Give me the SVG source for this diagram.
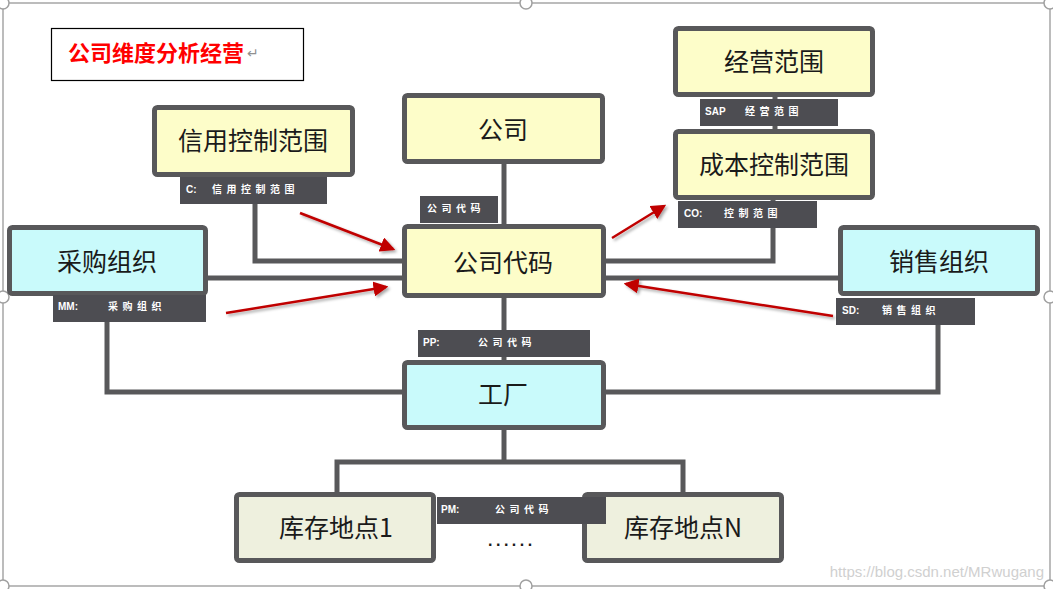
<svg xmlns="http://www.w3.org/2000/svg" width="1053" height="589" viewBox="0 0 1053 589">
<defs>
<style>
.frame{fill:none;stroke:#a6a6a6;stroke-width:1.5}
.handle{fill:#fff;stroke:#a0a0a0;stroke-width:1.5}
.box{stroke:#58585a;stroke-width:5}
.y{fill:#fdfdc9}
.c{fill:#c9fafb}
.g{fill:#eef0de}
.lbl{fill:#4d4d52}
.main{font-family:"Noto Sans CJK SC","Liberation Sans",sans-serif;font-size:25px;fill:#1a1a1a;text-anchor:middle}
.lt{font-family:"Liberation Sans","Noto Sans CJK SC",sans-serif;font-size:10px;font-weight:bold;fill:#fff}
.lc{font-family:"Noto Sans CJK SC",sans-serif;font-size:10px;font-weight:bold;fill:#fff;letter-spacing:4.5px}
.conn{fill:none;stroke:#58585a;stroke-width:5}
.red{fill:none;stroke:#c00000;stroke-width:2.5;marker-end:url(#ah);filter:url(#sh)}
</style>
<marker id="ah" markerWidth="6" markerHeight="6" refX="5" refY="3" orient="auto" markerUnits="strokeWidth">
<path d="M0,0 L6,3 L0,6 Z" fill="#c00000"/>
</marker>
<filter id="sh" x="-20%" y="-20%" width="140%" height="140%">
<feDropShadow dx="2" dy="2" stdDeviation="1.5" flood-color="#000" flood-opacity="0.35"/>
</filter>
</defs>
<rect width="1053" height="589" fill="#fff"/>
<g id="frame">
<rect class="frame" x="3" y="3" width="1047" height="583"/>
<circle class="handle" cx="3" cy="3" r="6"/>
<circle class="handle" cx="526" cy="3" r="6"/>
<circle class="handle" cx="1050" cy="3" r="6"/>
<circle class="handle" cx="3" cy="297" r="6"/>
<circle class="handle" cx="1050" cy="297" r="6"/>
<circle class="handle" cx="3" cy="586" r="6"/>
<circle class="handle" cx="526" cy="586" r="6"/>
<circle class="handle" cx="1050" cy="586" r="6"/>
</g>
<g id="title">
<rect x="51.5" y="28.5" width="252" height="52" fill="#fff" stroke="#000" stroke-width="1.2"/>
<text x="68" y="61" font-family="Noto Sans CJK SC,sans-serif" font-size="22" font-weight="bold" fill="#ff0000">公司维度分析经营</text>
<text x="247" y="58" font-family="DejaVu Sans,sans-serif" font-size="14" fill="#909090">↵</text>
</g>
<g id="connectors">
<path class="conn" d="M255 177 V261 H402"/>
<path class="conn" d="M207 278 H402"/>
<path class="conn" d="M107 321 V392 H402"/>
<path class="conn" d="M504 162 V224"/>
<path class="conn" d="M504 297 V360"/>
<path class="conn" d="M775 96 V129"/>
<path class="conn" d="M773 198 V261 H606"/>
<path class="conn" d="M606 278 H838"/>
<path class="conn" d="M938 325 V392 H606"/>
<path class="conn" d="M504 428 V462"/>
<path class="conn" d="M337 492 V462 H683 V492"/>
</g>
<g id="n-xinyong">
<rect class="box y" x="154.5" y="107.5" width="198" height="67" rx="3"/>
<text class="main" x="253" y="150">信用控制范围</text>
</g>
<g id="n-gongsi">
<rect class="box y" x="404.5" y="95.5" width="198" height="66" rx="3"/>
<text class="main" x="503" y="139">公司</text>
</g>
<g id="n-jingying">
<rect class="box y" x="675.5" y="28.5" width="197" height="66" rx="3"/>
<text class="main" x="774" y="71">经营范围</text>
</g>
<g id="n-chengben">
<rect class="box y" x="675.5" y="131.5" width="197" height="66" rx="3"/>
<text class="main" x="774" y="174">成本控制范围</text>
</g>
<g id="n-caigou">
<rect class="box c" x="9.5" y="227.5" width="196" height="66" rx="3"/>
<text class="main" x="107" y="271">采购组织</text>
</g>
<g id="n-gongsidaima">
<rect class="box y" x="404.5" y="226.5" width="199" height="69" rx="3"/>
<text class="main" x="503" y="272">公司代码</text>
</g>
<g id="n-xiaoshou">
<rect class="box c" x="840.5" y="227.5" width="197" height="66" rx="3"/>
<text class="main" x="939" y="271">销售组织</text>
</g>
<g id="n-gongchang">
<rect class="box c" x="404.5" y="362.5" width="199" height="65" rx="3"/>
<text class="main" x="503" y="404">工厂</text>
</g>
<g id="n-kucun1">
<rect class="box g" x="236.5" y="494.5" width="197" height="66" rx="3"/>
<text class="main" x="336" y="537">库存地点1</text>
</g>
<g id="n-kucunN">
<rect class="box g" x="584.5" y="494.5" width="197" height="66" rx="3"/>
<text class="main" x="683" y="537">库存地点N</text>
</g>
<g id="l-c">
<rect class="lbl" x="180" y="177" width="147" height="27"/>
<text class="lt" x="186" y="193">C:</text>
<text class="lc" x="212" y="193">信用控制范围</text>
</g>
<g id="l-gs">
<rect class="lbl" x="420" y="196" width="78" height="27"/>
<text class="lc" x="427" y="212">公司代码</text>
</g>
<g id="l-co">
<rect class="lbl" x="678" y="201" width="139" height="27"/>
<text class="lt" x="684" y="217">CO:</text>
<text class="lc" x="724" y="217">控制范围</text>
</g>
<g id="l-sap">
<rect class="lbl" x="700" y="99" width="138" height="27"/>
<text class="lt" x="705" y="115">SAP</text>
<text class="lc" x="745" y="115">经营范围</text>
</g>
<g id="l-mm">
<rect class="lbl" x="53" y="295" width="153" height="27"/>
<text class="lt" x="58" y="310">MM:</text>
<text class="lc" x="108" y="310">采购组织</text>
</g>
<g id="l-pp">
<rect class="lbl" x="418" y="330" width="172" height="27"/>
<text class="lt" x="423" y="346">PP:</text>
<text class="lc" x="478" y="346">公司代码</text>
</g>
<g id="l-sd">
<rect class="lbl" x="836" y="298" width="139" height="27"/>
<text class="lt" x="842" y="314">SD:</text>
<text class="lc" x="882" y="314">销售组织</text>
</g>
<g id="l-pm">
<rect class="lbl" x="437" y="497" width="169" height="27"/>
<text class="lt" x="441" y="513">PM:</text>
<text class="lc" x="495" y="513">公司代码</text>
</g>
<g id="arrows">
<path class="red" d="M300 213 L393 249"/>
<path class="red" d="M226 313 L386 287"/>
<path class="red" d="M459 193 V166"/>
<path class="red" d="M612 238 L664 206"/>
<path class="red" d="M542 330 V301"/>
<path class="red" d="M852 128 V100"/>
<path class="red" d="M833 316 L626 284"/>
<path class="red" d="M475 497 V435"/>
</g>
<text x="488" y="546" font-family="Liberation Sans,sans-serif" font-size="16" font-weight="bold" fill="#1a1a1a" letter-spacing="3.5">......</text>
<text x="1044" y="577" font-family="Liberation Sans,sans-serif" font-size="15" fill="#d0d0d0" text-anchor="end">https://blog.csdn.net/MRwugang</text>
</svg>
